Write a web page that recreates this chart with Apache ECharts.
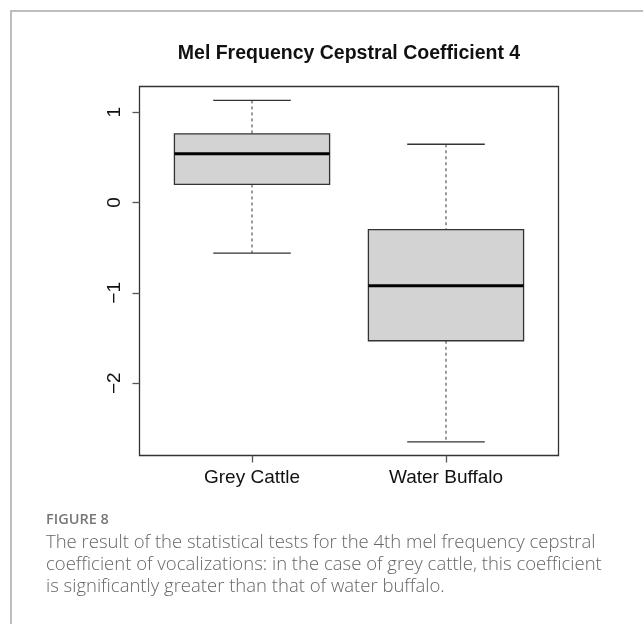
<!DOCTYPE html>
<html>
<head>
<meta charset="utf-8">
<script src="https://cdn.jsdelivr.net/npm/echarts@6/dist/echarts.min.js"></script>
<style>
  html, body { margin: 0; padding: 0; background: #fff; }
  #chart { width: 643px; height: 624px; }
</style>
</head>
<body>
<div id="chart"></div>
<script>
// Groups compared and their box-plot statistics (MFCC 4)
const categories = ['Grey Cattle', 'Water Buffalo'];
const lowerWhisker = [-0.56, -2.65];
const q1 = [0.20, -1.53];
const median = [0.54, -0.92];
const q3 = [0.76, -0.30];
const upperWhisker = [1.13, 0.645];
const yTicks = [-2, -1, 0, 1];

const titleText = 'Mel Frequency Cepstral Coefficient 4';
const figureLabel = 'FIGURE 8';
const captionLines = [
  'The result of the statistical tests for the 4th mel frequency cepstral',
  'coefficient of vocalizations: in the case of grey cattle, this coefficient',
  'is significantly greater than that of water buffalo.'
];

// one row per box: [position, low, q1, median, q3, high]
const rows = categories.map((c, i) => [i + 1, lowerWhisker[i], q1[i], median[i], q3[i], upperWhisker[i]]);

const chart = echarts.init(document.getElementById('chart'), null, { renderer: 'canvas' });

function renderBox(params, api) {
  const x = api.value(0);
  const low = api.coord([x, api.value(1)]);
  const p1 = api.coord([x, api.value(2)]);
  const pm = api.coord([x, api.value(3)]);
  const p3 = api.coord([x, api.value(4)]);
  const high = api.coord([x, api.value(5)]);
  const boxW = api.size([0.8, 0])[0];
  const capW = boxW / 2;
  const cx = low[0];
  const dash = { stroke: '#666', lineWidth: 1.3, lineDash: [3, 3] };
  const solid = { stroke: '#333', lineWidth: 1.3 };
  return {
    type: 'group',
    children: [
      { type: 'line', shape: { x1: cx, y1: high[1], x2: cx, y2: p3[1] }, style: dash },
      { type: 'line', shape: { x1: cx, y1: p1[1], x2: cx, y2: low[1] }, style: dash },
      { type: 'line', shape: { x1: cx - capW / 2, y1: high[1], x2: cx + capW / 2, y2: high[1] }, style: solid },
      { type: 'line', shape: { x1: cx - capW / 2, y1: low[1], x2: cx + capW / 2, y2: low[1] }, style: solid },
      { type: 'rect', shape: { x: cx - boxW / 2, y: p3[1], width: boxW, height: p1[1] - p3[1] },
        style: { fill: '#d3d3d3', stroke: '#333', lineWidth: 1.3 } },
      { type: 'line', shape: { x1: cx - boxW / 2, y1: pm[1], x2: cx + boxW / 2, y2: pm[1] },
        style: { stroke: '#000', lineWidth: 3 } }
    ]
  };
}

const axisFont = { fontFamily: 'Liberation Sans, Arial, sans-serif', fontSize: 19, color: '#111' };

chart.setOption({
  animation: false,
  backgroundColor: '#fff',
  grid: {
    left: 139.5, top: 86.5, right: 84.5, bottom: 168.5,
    show: true, borderColor: '#333', borderWidth: 1.3, backgroundColor: 'transparent'
  },
  xAxis: {
    type: 'value', min: 0.42, max: 2.58,
    splitLine: { show: false },
    axisLine: { show: false, onZero: false },
    axisTick: { show: true, customValues: [1, 2], length: 7, lineStyle: { color: '#555', width: 1.3 } },
    axisLabel: {
      customValues: [1, 2], margin: 13, ...axisFont,
      formatter: v => categories[Math.round(v) - 1] || ''
    }
  },
  yAxis: {
    type: 'value', min: -2.8, max: 1.284,
    splitLine: { show: false },
    axisLine: { show: false, onZero: false },
    axisTick: { show: true, customValues: yTicks, length: 7, lineStyle: { color: '#555', width: 1.3 } },
    axisLabel: {
      customValues: yTicks, rotate: 90, margin: 15, ...axisFont,
      formatter: v => String(v).replace('-', '\u2212')
    }
  },
  series: [{
    type: 'custom',
    renderItem: renderBox,
    encode: { x: 0, y: [1, 2, 3, 4, 5] },
    data: rows
  }],
  graphic: [
    { type: 'polyline', silent: true,
      shape: { points: [[11, 624], [11, 11], [643, 11]] },
      style: { stroke: '#bdbdbd', lineWidth: 2, fill: null } },
    { type: 'text', x: 349, y: 54,
      style: { text: titleText, textAlign: 'center', textVerticalAlign: 'middle',
               font: 'bold 19.5px "Liberation Sans", Arial, sans-serif', fill: '#111' } },
    { type: 'text', x: 46, y: 520,
      style: { text: figureLabel, textAlign: 'left', textVerticalAlign: 'middle',
               font: '600 14.5px "Open Sans", sans-serif', fill: '#777' } },
    ...captionLines.map((t, i) => ({
      type: 'text', x: 46, y: 543 + i * 22,
      style: { text: t, textAlign: 'left', textVerticalAlign: 'middle',
               font: '300 18.5px "Open Sans", sans-serif', fill: '#666' }
    }))
  ]
});
</script>
</body>
</html>
